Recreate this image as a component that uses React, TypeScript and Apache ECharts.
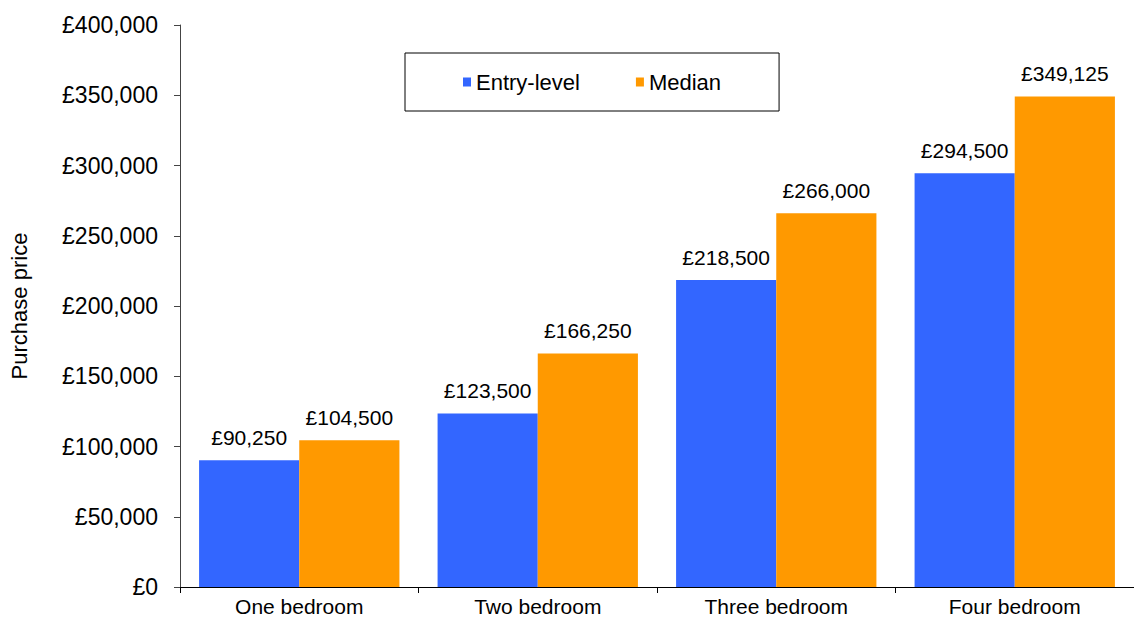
import React, { useEffect, useRef } from "react";
import * as echarts from "echarts";

const categories = ["One bedroom", "Two bedroom", "Three bedroom", "Four bedroom"];
const entryLevel = [90250, 123500, 218500, 294500];
const median = [104500, 166250, 266000, 349125];
const seriesNames = ["Entry-level", "Median"];

const FONT = "'Liberation Sans', Arial, sans-serif";

const fmt = (v: number) => "£" + v.toLocaleString("en-GB");

export default function App() {
  const ref = useRef<HTMLDivElement>(null);
  useEffect(() => {
    if (!ref.current) return;
    const chart = echarts.init(ref.current, undefined, { renderer: "svg" });
    const label = {
      show: true,
      position: "top" as const,
      distance: 12,
      color: "#000",
      fontFamily: FONT,
      fontSize: 21,
      formatter: (p: any) => fmt(p.value),
    };
    chart.setOption({
      animation: false,
      backgroundColor: "#fff",
      textStyle: { fontFamily: FONT },
      grid: { left: 180, right: 0, top: 25, bottom: 29 },
      legend: {
        left: 405,
        top: 53,
        width: 369,
        padding: [18, 58, 18, 58],
        itemGap: 56,
        itemWidth: 8,
        itemHeight: 9,
        borderColor: "#000",
        borderWidth: 1,
        icon: "rect",
        textStyle: { fontFamily: FONT, fontSize: 22, color: "#000", padding: [0, 0, 0, 0] },
        data: seriesNames,
      },
      xAxis: {
        type: "category",
        data: categories,
        axisLine: { lineStyle: { color: "#000", width: 1 } },
        axisTick: { show: true, length: 6, lineStyle: { color: "#000" } },
        axisLabel: { color: "#000", fontSize: 21, fontFamily: FONT, margin: 9 },
      },
      yAxis: {
        type: "value",
        min: 0,
        max: 400000,
        interval: 50000,
        name: "Purchase price",
        nameLocation: "middle",
        nameGap: 150,
        nameTextStyle: { color: "#000", fontSize: 22, fontFamily: FONT },
        axisLine: { show: true, lineStyle: { color: "#444", width: 1 } },
        axisTick: { show: true, length: 6, lineStyle: { color: "#444" } },
        splitLine: { show: false },
        axisLabel: { color: "#000", fontSize: 23, fontFamily: FONT, margin: 22, formatter: (v: number) => fmt(v) },
      },
      series: [
        {
          name: seriesNames[0],
          type: "bar",
          data: entryLevel,
          itemStyle: { color: "#3366FF" },
          barGap: "0%",
          barCategoryGap: "16%",
          label,
        },
        {
          name: seriesNames[1],
          type: "bar",
          data: median,
          itemStyle: { color: "#FF9900" },
          label,
        },
      ],
    });
    return () => chart.dispose();
  }, []);
  return <div ref={ref} style={{ width: 1134, height: 617, position: "absolute", left: 0, top: 0 }} />;
}
